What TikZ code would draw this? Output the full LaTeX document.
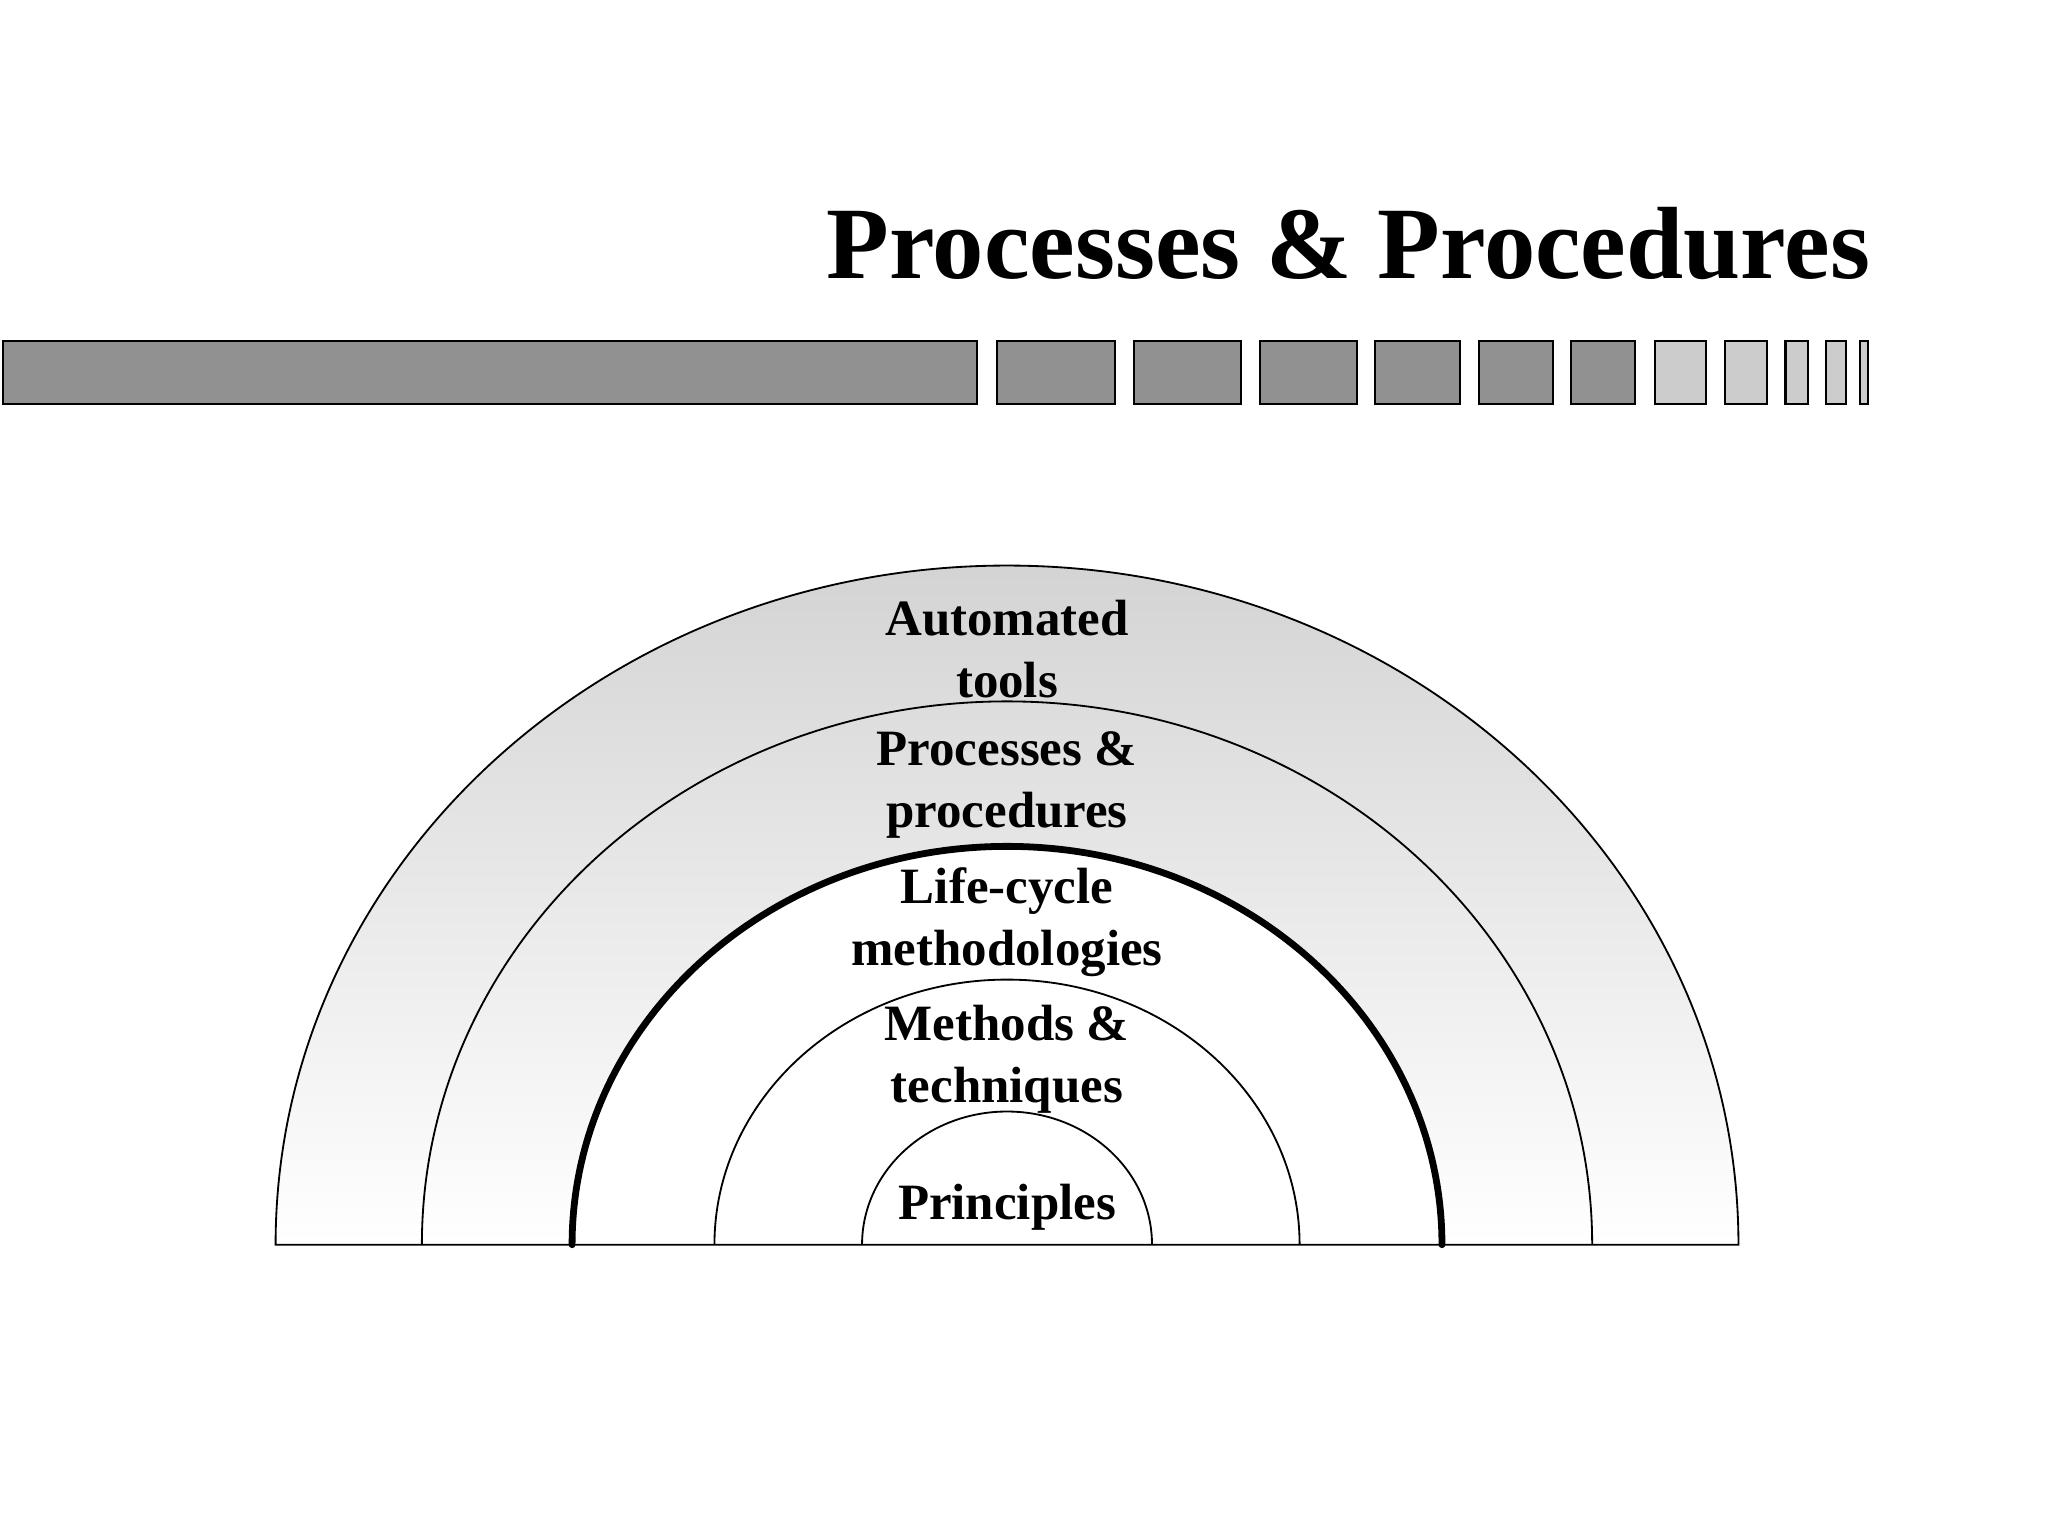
\documentclass[tikz,border=0pt]{standalone}
\usepackage{fontspec}
\setmainfont{Liberation Serif}
\begin{document}
\begin{tikzpicture}[x=0.5pt,y=-0.5pt,
 dark/.style={draw=black,fill=black!43,line width=0.8pt},
 light/.style={draw=black,fill=black!20,line width=0.8pt},
 arcl/.style={draw=black,line width=0.7pt},
 lbl/.style={font=\fontsize{19.5}{23.5}\selectfont\bfseries,align=center}]
\useasboundingbox (0,0) rectangle (1568,1176);
\node[font=\fontsize{39.3}{44}\selectfont\bfseries,anchor=base east,inner sep=0pt] (title) at (1432,213) {Processes \& Procedures};
\foreach \a/\b in {2/748,763/854,868/950,965/1039,1053/1118,1132/1189,1203/1252}
  \path[dark] (\a,261) rectangle (\b,309);
\foreach \a/\b in {1267/1306,1321/1353,1367/1384,1398/1413,1424/1430}
  \path[light] (\a,261) rectangle (\b,309);
\coordinate (c) at (771,953);
\shade[top color=black!17,bottom color=white] (211,953) arc[start angle=180,end angle=360,x radius=560,y radius=520] -- cycle;
\fill[white] (438,953) arc[start angle=180,end angle=360,x radius=333,y radius=305] -- cycle;
\draw[arcl] (211,953) arc[start angle=180,end angle=360,x radius=560,y radius=520] -- cycle;
\draw[arcl] (323,953) arc[start angle=180,end angle=360,x radius=448,y radius=416];
\draw[arcl] (547,953) arc[start angle=180,end angle=360,x radius=224,y radius=203];
\draw[arcl] (660,953) arc[start angle=180,end angle=360,x radius=111,y radius=102];
\draw[line width=2.6pt,line cap=round] (438,953) arc[start angle=180,end angle=360,x radius=333,y radius=305];
\node[lbl] (t1) at (771,497) {Automated\\tools};
\node[lbl] (t2) at (771,601) {Processes \&\\procedures};
\node[lbl] (t3) at (771,706) {Life-cycle\\methodologies};
\node[lbl] (t4) at (771,811) {Methods \&\\techniques};
\node[lbl] (t5) at (771,924) {Principles};
\end{tikzpicture}
\end{document}
